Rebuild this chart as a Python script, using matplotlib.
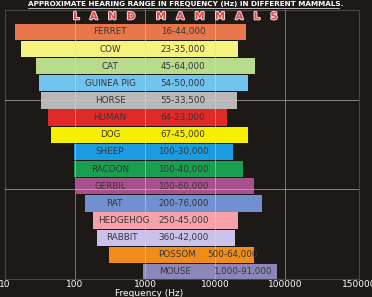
import matplotlib.pyplot as plt
import matplotlib.patheffects as pe

# animals top to bottom, with the ranges printed on the bars
animals = ["FERRET", "COW", "CAT", "GUINEA PIG", "HORSE", "HUMAN", "DOG", "SHEEP",
           "RACOON", "GERBIL", "RAT", "HEDGEHOG", "RABBIT", "POSSOM", "MOUSE"]
range_labels = ["16-44,000", "23-35,000", "45-64,000", "54-50,000", "55-33,500",
                "64-23,000", "67-45,000", "100-30,000", "100-40,000", "100-60,000",
                "200-76,000", "250-45,000", "360-42,000", "500-64,000", "1,000-91,000"]
# bar extents as drawn in the picture (Hz)
low = [14, 17, 28, 31, 33, 41, 45, 97, 97, 103, 139, 181, 206, 305, 935]
high = [27700, 21300, 37300, 29600, 20600, 14800, 29600, 18100, 25100, 36100,
        46900, 21300, 19300, 36100, 76900]
colors = ["#e8784c", "#f6f27e", "#b8dc8c", "#72c4f0", "#b8b8b8", "#e02a28",
          "#f6f000", "#1c9ce0", "#18a050", "#a8508e", "#7090d0", "#f6a2aa",
          "#cac2ea", "#f08c1a", "#8c86ba"]

bg = "#1d1917"
fig = plt.figure(figsize=(3.72, 2.97), dpi=100, facecolor=bg)
ax = fig.add_axes([0.0134, 0.0606, 0.952, 0.906])
ax.set_facecolor(bg)
ax.set_xscale("log")
xmax = 1.14e6
ax.set_xlim(10, xmax)
ax.set_ylim(14.41, -1.28)

ys = range(len(animals))
for i in ys:
    ax.barh(i, high[i] - low[i], left=low[i], height=0.95, color=colors[i],
            edgecolor="none", zorder=2,
            path_effects=[pe.SimpleLineShadow(offset=(1.5, -1.5), alpha=0.5),
                          pe.Normal()])

# label centres where the default would not fit
name_x = {"RAT": 360, "HEDGEHOG": 500, "RABBIT": 470, "POSSOM": 2860, "MOUSE": 2680}
range_x = {"POSSOM": 17500, "MOUSE": 24500}
for i in ys:
    nx = name_x.get(animals[i], 316)
    rx = range_x.get(animals[i], 3500)
    ax.text(nx, i, animals[i], ha="center", va="center", fontsize=6.3,
            color="#3a3438", zorder=4)
    ax.text(rx, i, range_labels[i], ha="center", va="center", fontsize=6.3,
            color="#3a3438", zorder=4)

# grid drawn over the bars
for gx in [100, 1000, 10000, 100000]:
    ax.axvline(gx, color="#d8d8d8", lw=0.7, alpha=0.5, zorder=3)
yl = ax.get_ylim()
for frac in [1 / 3, 2 / 3]:
    ax.axhline(yl[1] + (yl[0] - yl[1]) * frac, color="#c8c8c8", lw=0.7,
               alpha=0.6, zorder=3)

for s in ax.spines.values():
    s.set_color("#4a4442")
    s.set_linewidth(0.8)

ax.set_xticks([10, 100, 1000, 10000, 100000, xmax])
ax.set_xticklabels(["10", "100", "1000", "10000", "100000", "150000"])
ax.minorticks_off()
ax.tick_params(axis="x", length=0, colors="white", labelsize=6.5, pad=1)
ax.set_yticks([])

fig.text(0.40, -0.004, "Frequency (Hz)", color="white", fontsize=6.5,
         ha="center", va="bottom")

fig.text(0.5, 0.998, "APPROXIMATE HEARING RANGE IN FREQUENCY (Hz) IN DIFFERENT MAMMALS.",
         color="white", fontsize=5.2, fontweight="bold", ha="center", va="top")
fig.add_artist(plt.Line2D([0.075, 0.91], [0.974, 0.974], color="white", lw=0.5))

fig.text(0.472, 0.945, "L   A   N   D      M   A   M   M   A   L   S", color="#d84a4a",
         fontsize=7.2, fontweight="bold", ha="center", va="center",
         path_effects=[pe.withStroke(linewidth=1.4, foreground="#f0e0e0")])

fig.savefig("out.png", dpi=100, facecolor=bg)
